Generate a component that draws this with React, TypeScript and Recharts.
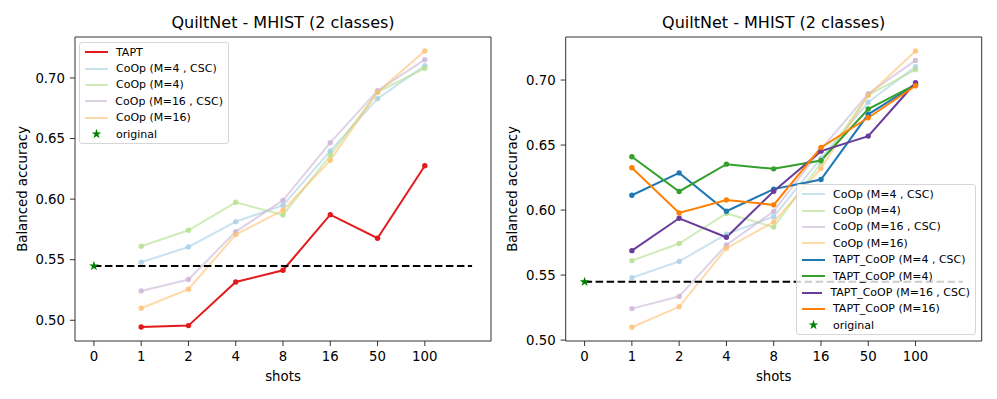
import React from 'react';
import {
  ComposedChart,
  Line,
  Scatter,
  XAxis,
  YAxis,
  ReferenceLine,
  Symbols,
} from 'recharts';

const SHOTS = ['0', '1', '2', '4', '8', '16', '50', '100'];
const Y_TICKS = [0.5, 0.55, 0.6, 0.65, 0.7];
const X_DOMAIN: [number, number] = [-0.4, 8.4];
const ORIGINAL = 0.5448;

// values for shots 1, 2, 4, 8, 16, 50, 100
const TAPT = [0.4945, 0.4956, 0.5316, 0.5413, 0.5872, 0.5677, 0.6276];
const COOP_M4_CSC = [0.5479, 0.5605, 0.5814, 0.5949, 0.6398, 0.6829, 0.7102];
const COOP_M4 = [0.5611, 0.5743, 0.5974, 0.5869, 0.6362, 0.6884, 0.708];
const COOP_M16_CSC = [0.5242, 0.5336, 0.5732, 0.599, 0.6466, 0.6895, 0.7151];
const COOP_M16 = [0.5099, 0.5256, 0.5707, 0.5908, 0.632, 0.6882, 0.7223];
const TAPT_COOP_M4_CSC = [0.6114, 0.6286, 0.5991, 0.6161, 0.6235, 0.6736, 0.6964];
const TAPT_COOP_M4 = [0.641, 0.6143, 0.6353, 0.6317, 0.6381, 0.6777, 0.6964];
const TAPT_COOP_M16_CSC = [0.5688, 0.5937, 0.5791, 0.6145, 0.6453, 0.6569, 0.6979];
const TAPT_COOP_M16 = [0.6325, 0.5978, 0.6078, 0.604, 0.6481, 0.671, 0.6956];

const rows = SHOTS.slice(1).map((_, i) => ({
  x: i + 1,
  tapt: TAPT[i],
  c4csc: COOP_M4_CSC[i],
  c4: COOP_M4[i],
  c16csc: COOP_M16_CSC[i],
  c16: COOP_M16[i],
  t4csc: TAPT_COOP_M4_CSC[i],
  t4: TAPT_COOP_M4[i],
  t16csc: TAPT_COOP_M16_CSC[i],
  t16: TAPT_COOP_M16[i],
}));

const FONT = 'DejaVu Sans, sans-serif';
const SPINE = '#333';

type S = { key: string; name: string; color: string; light?: boolean };

const COOP: S[] = [
  { key: 'c4csc', name: 'CoOp (M=4 , CSC)', color: '#a6cee3', light: true },
  { key: 'c4', name: 'CoOp (M=4)', color: '#b2df8a', light: true },
  { key: 'c16csc', name: 'CoOp (M=16 , CSC)', color: '#cab2d6', light: true },
  { key: 'c16', name: 'CoOp (M=16)', color: '#fdbf6f', light: true },
];
const LEFT: S[] = [{ key: 'tapt', name: 'TAPT', color: '#e31a1c' }, ...COOP];
const RIGHT: S[] = [
  ...COOP,
  { key: 't4csc', name: 'TAPT_CoOP (M=4 , CSC)', color: '#1f78b4' },
  { key: 't4', name: 'TAPT_CoOP (M=4)', color: '#33a02c' },
  { key: 't16csc', name: 'TAPT_CoOP (M=16 , CSC)', color: '#6a3d9a' },
  { key: 't16', name: 'TAPT_CoOP (M=16)', color: '#ff7f00' },
];

const tick = { fontSize: 13.3, fill: '#000', fontFamily: FONT };

function Star(props: any) {
  return <Symbols cx={props.cx} cy={props.cy} type="star" size={30} fill="#008000" />;
}

function Legend({ series, style }: { series: S[]; style: React.CSSProperties }) {
  const row: React.CSSProperties = {
    display: 'flex',
    alignItems: 'center',
    height: 16.4,
    whiteSpace: 'nowrap',
  };
  return (
    <div
      style={{
        position: 'absolute',
        background: 'rgba(255,255,255,0.8)',
        border: '1px solid #d6d6d6',
        borderRadius: 3,
        fontFamily: FONT,
        fontSize: 11,
        color: '#000',
        padding: '1px 5px 3px 5px',
        boxSizing: 'border-box',
        ...style,
      }}
    >
      {series.map((s) => (
        <div key={s.key} style={row}>
          <div
            style={{
              width: 23,
              height: 2,
              background: s.color,
              opacity: s.light ? 0.6 : 1,
              marginRight: 8,
            }}
          />
          {s.name}
        </div>
      ))}
      <div style={row}>
        <svg width={23} height={12} style={{ marginRight: 8 }}>
          <Symbols cx={11.5} cy={6} type="star" size={30} fill="#008000" />
        </svg>
        original
      </div>
    </div>
  );
}

function Panel({
  series,
  width,
  yAxisWidth,
  rightMargin,
  yDomain,
  labelOffset,
}: {
  series: S[];
  width: number;
  yAxisWidth: number;
  rightMargin: number;
  yDomain: [number, number];
  labelOffset: number;
}) {
  return (
    <ComposedChart
      width={width}
      height={399}
      data={rows}
      margin={{ top: 37, right: rightMargin, left: 0, bottom: 0 }}
    >
      <XAxis
        dataKey="x"
        type="number"
        domain={X_DOMAIN}
        ticks={SHOTS.map((_, i) => i)}
        tickFormatter={(v: number) => SHOTS[v]}
        allowDataOverflow
        height={58}
        tick={tick}
        tickSize={5}
        tickMargin={6}
        stroke={SPINE}
        label={{
          value: 'shots',
          position: 'insideBottom',
          offset: 18,
          style: { fontSize: 13.3, fill: '#000', fontFamily: FONT },
        }}
      />
      <YAxis
        type="number"
        domain={yDomain}
        ticks={Y_TICKS}
        tickFormatter={(v: number) => v.toFixed(2)}
        allowDataOverflow
        width={yAxisWidth}
        tick={tick}
        tickSize={5}
        tickMargin={5}
        stroke={SPINE}
        label={{
          value: 'Balanced accuracy',
          angle: -90,
          position: 'insideLeft',
          offset: labelOffset,
          style: { fontSize: 13.3, fill: '#000', fontFamily: FONT, textAnchor: 'middle' },
        }}
      />
      {/* top and right spines */}
      <ReferenceLine y={yDomain[1]} stroke={SPINE} strokeWidth={1} />
      <ReferenceLine x={X_DOMAIN[1]} stroke={SPINE} strokeWidth={1} />
      {series.map((s) => (
        <Line
          key={s.key}
          dataKey={s.key}
          name={s.name}
          stroke={s.color}
          strokeOpacity={s.light ? 0.6 : 1}
          strokeWidth={2}
          dot={{ r: 2.7, fill: s.color, stroke: 'none', fillOpacity: s.light ? 0.8 : 1 }}
          activeDot={false}
          isAnimationActive={false}
        />
      ))}
      <ReferenceLine
        segment={[
          { x: 0, y: ORIGINAL },
          { x: 8, y: ORIGINAL },
        ]}
        stroke="#000"
        strokeWidth={2}
        strokeDasharray="7.5 3.5"
      />
      <Scatter
        data={[{ x: 0, y: ORIGINAL }]}
        dataKey="y"
        shape={Star}
        isAnimationActive={false}
      />
    </ComposedChart>
  );
}

const titleStyle: React.CSSProperties = {
  position: 'absolute',
  top: 13,
  width: 300,
  textAlign: 'center',
  fontFamily: FONT,
  fontSize: 16,
  lineHeight: '20px',
  color: '#000',
};

export default function App() {
  return (
    <div
      style={{
        position: 'absolute',
        left: 0,
        top: 0,
        width: 997,
        height: 399,
        background: '#fff',
        overflow: 'hidden',
      }}
    >
      <div style={{ position: 'absolute', left: 0, top: 0 }}>
        <Panel
          series={LEFT}
          width={500}
          yAxisWidth={75}
          rightMargin={9}
          yDomain={[0.4829, 0.7338]}
          labelOffset={22}
        />
      </div>
      <div style={{ position: 'absolute', left: 500, top: 0 }}>
        <Panel
          series={RIGHT}
          width={497}
          yAxisWidth={65.7}
          rightMargin={15.3}
          yDomain={[0.4993, 0.7331]}
          labelOffset={12.5}
        />
      </div>
      <div style={{ ...titleStyle, left: 283 - 150 }}>QuiltNet - MHIST (2 classes)</div>
      <div style={{ ...titleStyle, left: 773.7 - 150 }}>QuiltNet - MHIST (2 classes)</div>
      <Legend series={LEFT} style={{ left: 79, top: 42, width: 150, height: 102 }} />
      <Legend series={RIGHT} style={{ left: 796, top: 184, width: 180, height: 151 }} />
    </div>
  );
}
